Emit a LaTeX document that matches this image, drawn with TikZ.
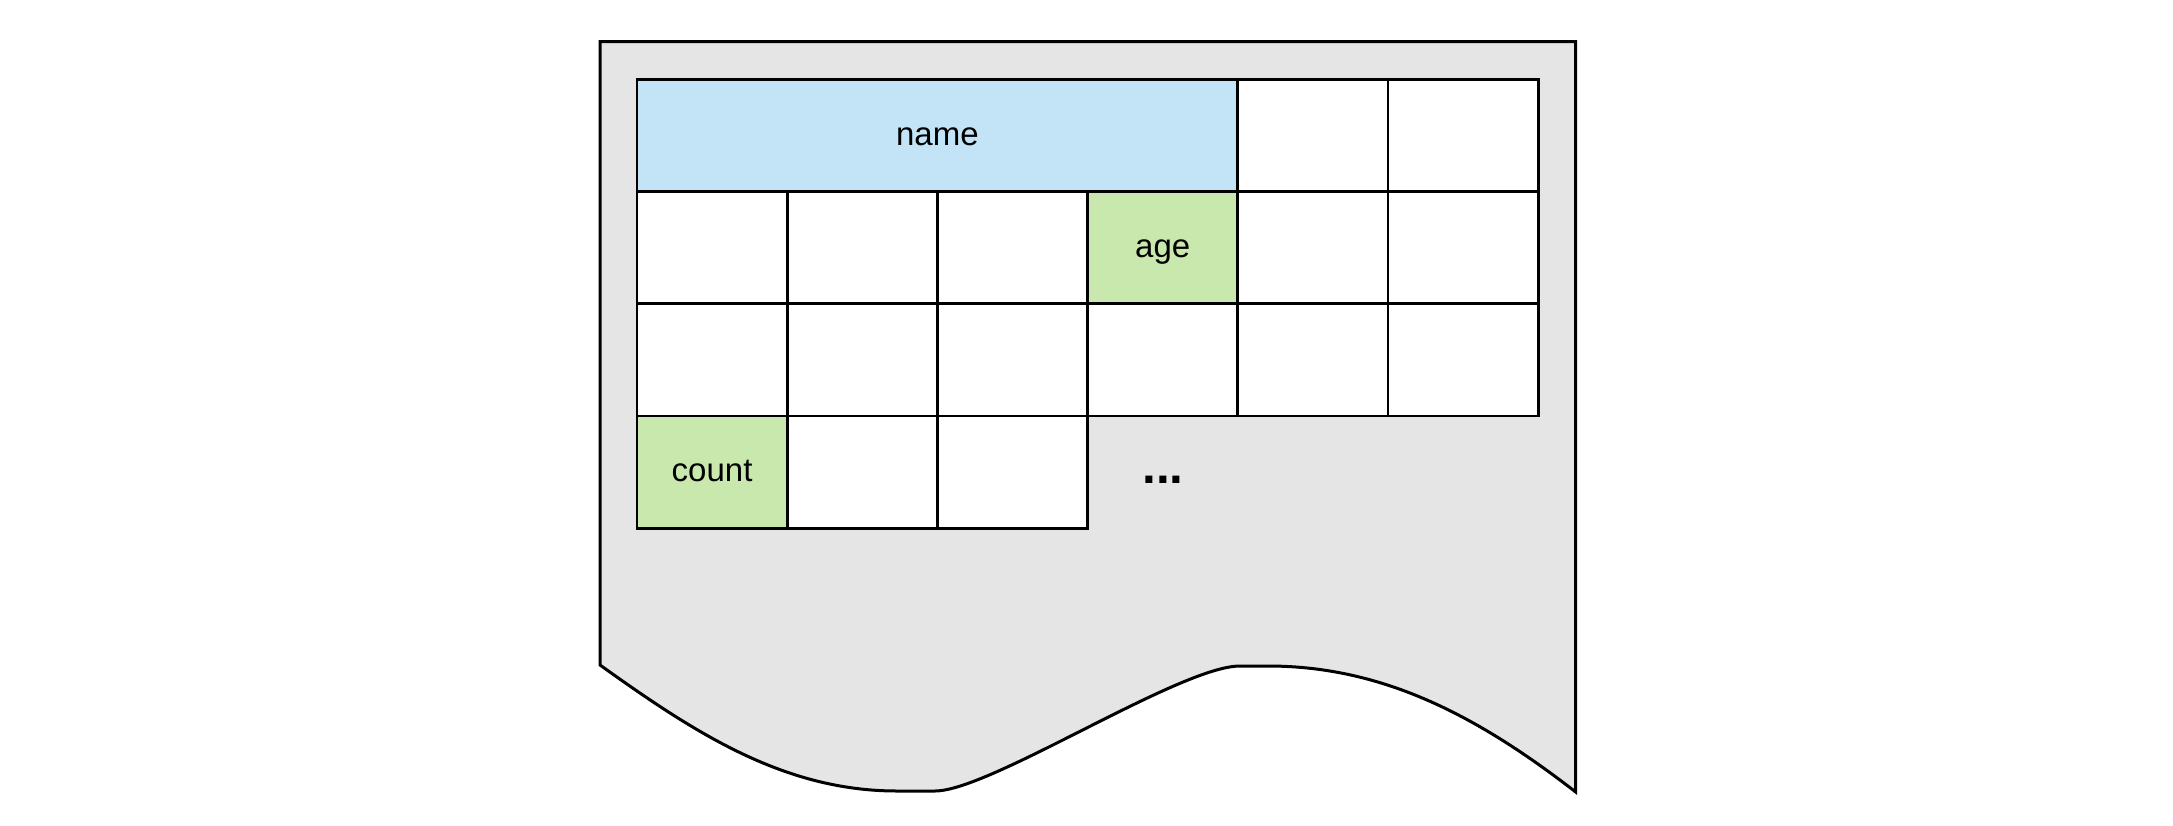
\documentclass[tikz,border=0pt]{standalone}
\usepackage{fontspec}
\setmainfont{Liberation Sans}
\definecolor{docgray}{HTML}{E5E5E5}
\definecolor{namefill}{HTML}{C2E4F6}
\definecolor{fieldfill}{HTML}{C8E8AD}
\begin{document}
\begin{tikzpicture}[x=0.5pt,y=-0.5pt,
  cell/.style={draw=black,line width=1.4pt,fill=white,rectangle,inner sep=0pt,outer sep=0pt,
    minimum width=75.1pt,minimum height=56.1pt},
  wide/.style={cell,minimum width=300.4pt},
  lbl/.style={anchor=base,inner sep=0pt,font=\fontsize{16.5}{20}\selectfont},
  doc/.style={draw=black,line width=1.5pt,fill=docgray,line join=miter}]
\useasboundingbox (0,0) rectangle (2173,825);
% document shape
\draw[doc] (600,41.7) -- (1575.7,41.7) -- (1575.7,792)
  .. controls (1480,718) and (1385,666) .. (1268,666) -- (1240,666)
  .. controls (1180,666) and (990,791) .. (935,791) -- (897,791)
  .. controls (784,791) and (695,733) .. (600,665) -- cycle;
% row 1
\node[wide,fill=namefill] (name) at (937.4,135.4) {};
\node[cell] (r1c5) at (1312.9,135.4) {};
\node[cell] (r1c6) at (1463.1,135.4) {};
% row 2
\node[cell] (r2c1) at (712.1,247.6) {};
\node[cell] (r2c2) at (862.3,247.6) {};
\node[cell] (r2c3) at (1012.5,247.6) {};
\node[cell,fill=fieldfill] (age) at (1162.7,247.6) {};
\node[cell] (r2c5) at (1312.9,247.6) {};
\node[cell] (r2c6) at (1463.1,247.6) {};
% row 3
\node[cell] (r3c1) at (712.1,359.8) {};
\node[cell] (r3c2) at (862.3,359.8) {};
\node[cell] (r3c3) at (1012.5,359.8) {};
\node[cell] (r3c4) at (1162.7,359.8) {};
\node[cell] (r3c5) at (1312.9,359.8) {};
\node[cell] (r3c6) at (1463.1,359.8) {};
% row 4
\node[cell,fill=fieldfill] (count) at (712.1,472.0) {};
\node[cell] (r4c2) at (862.3,472.0) {};
\node[cell] (r4c3) at (1012.5,472.0) {};
% labels
\node[lbl] (namelbl) at ([yshift=-4.8pt]name.center) {name};
\node[lbl] (agelbl) at ([yshift=-4.8pt]age.center) {age};
\node[lbl] (countlbl) at ([yshift=-4.8pt]count.center) {count};
\node[anchor=base,inner sep=0pt,font=\fontsize{24.75}{28}\selectfont\bfseries] (dots) at (1163,483) {...};
\end{tikzpicture}
\end{document}
